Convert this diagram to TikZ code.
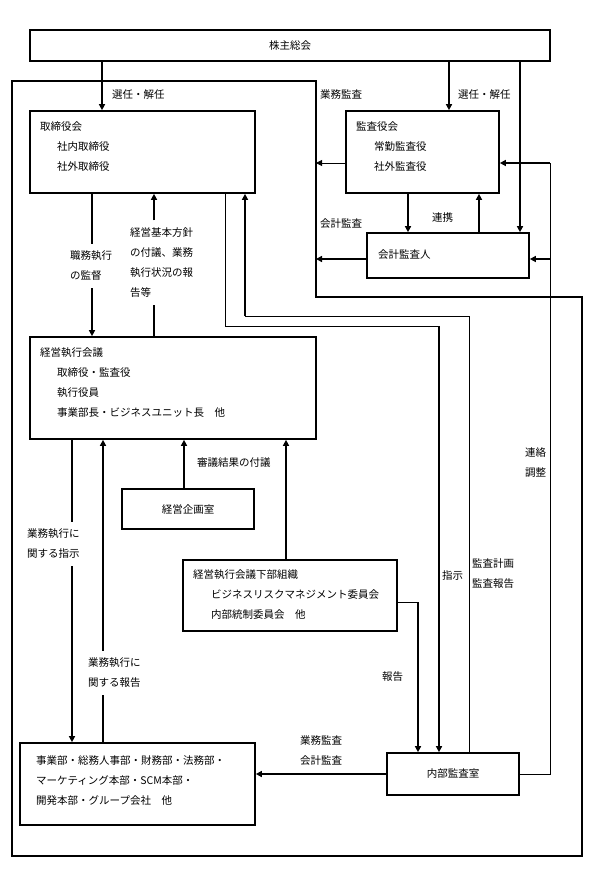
\documentclass[tikz,border=0pt]{standalone}
\usepackage{fontspec}
\setmainfont{Noto Sans CJK JP}
\usetikzlibrary{arrows.meta}
\begin{document}
\begin{tikzpicture}[x=1pt,y=-1pt,
  box/.style={draw,line width=1.7pt,inner sep=0pt,font=\fontsize{10.5}{20}\selectfont},
  txt/.style={inner sep=0pt,align=left,font=\fontsize{10.5}{20}\selectfont,anchor=west},
  gap/.style={txt,inner ysep=7pt},
  thk/.style={line width=1.7pt},
  thn/.style={line width=0.8pt},
  arr/.style={-{Triangle[width=6pt,length=6pt]}}
]
\useasboundingbox (0,0) rectangle (601,876);
% guide coordinates
\foreach \x in {72,92,102,103,154,184,225,245,286,408,418,439,449,469,479,520,550}
  {\coordinate (g\x) at (\x,0);}
\foreach \y in {163,259,316,326,602}
  {\coordinate (h\y) at (0,\y);}
% frame
\coordinate (f1) at (12,81);
\coordinate (f2) at (316,81);
\coordinate (f3) at (316,297);
\coordinate (f4) at (582,297);
\coordinate (f5) at (582,856);
\coordinate (f6) at (12,856);
\draw[thk] (f1) -- (f2) -- (f3) -- (f4) -- (f5) -- (f6) -- cycle;
% boxes
\node[box,minimum width=520pt,minimum height=31pt] (soukai) at (290,45.5) {株主総会};
\node[box,minimum width=225pt,minimum height=82pt] (board) at (142.5,152) {};
\node[box,minimum width=153pt,minimum height=82pt] (kansa) at (422.5,152) {};
\node[box,minimum width=162pt,minimum height=45pt] (kaikei) at (448,255.5) {};
\node[box,minimum width=286pt,minimum height=102pt] (keiei) at (173,388) {};
\node[box,minimum width=132pt,minimum height=40pt] (kikaku) at (188,509) {経営企画室};
\node[box,minimum width=214pt,minimum height=71pt] (kabu) at (290,595.5) {};
\node[box,minimum width=235pt,minimum height=82pt] (jigyo) at (137.5,784) {};
\node[box,minimum width=132pt,minimum height=42pt] (naibu) at (453,774) {内部監査室};
% box texts
\node[txt] (t1) at (40,147) {取締役会\\\hspace*{17pt}社内取締役\\\hspace*{17pt}社外取締役};
\node[txt] (t2) at (356,147) {監査役会\\\hspace*{18pt}常勤監査役\\\hspace*{18pt}社外監査役};
\node[txt] (t3) at (378,255) {会計監査人};
\node[txt] (t4) at (40,383) {経営執行会議\\\hspace*{17pt}取締役・監査役\\\hspace*{17pt}執行役員\\\hspace*{17pt}事業部長・ビジネスユニット長　他};
\node[txt] (t6) at (193,595) {経営執行会議下部組織\\\hspace*{18pt}ビジネスリスクマネジメント委員会\\\hspace*{18pt}内部統制委員会　他};
\node[txt] (t7) at (36,780.5) {事業部・総務人事部・財務部・法務部・\\マーケティング本部・SCM本部・\\開発本部・グループ会社　他};
% labels
\node[txt] (l1) at (112,95) {選任・解任};
\node[txt] (l2) at (458,95) {選任・解任};
\node[txt] (l3) at (320,95) {業務監査};
\node[txt] (l4) at (320,224) {会計監査};
\node[txt] (l5) at (432,218) {連携};
\node[txt] (l6) at (525,462.5) {連絡\\調整};
\node[gap] (l8) at (70,266) {職務執行\\の監督};
\node[gap] (l9) at (130,262.5) {経営基本方針\\の付議、業務\\執行状況の報\\告等};
\node[txt] (l10) at (197,463) {審議結果の付議};
\node[txt] (l11) at (382,677) {報告};
\node[txt] (l12) at (442,576) {指示};
\node[txt] (l13) at (472,573.5) {監査計画\\監査報告};
\node[gap] (l14) at (27,544) {業務執行に\\関する指示};
\node[gap] (l15) at (88,673) {業務執行に\\関する報告};
\node[txt] (l16) at (300,750.5) {業務監査\\会計監査};
% connectors
\draw[thk,arr] (soukai.south -| g102) -- (board.north -| g102);
\draw[thk,arr] (soukai.south -| g449) -- (kansa.north -| g449);
\draw[thk,arr] (soukai.south -| g520) -- (kaikei.north -| g520);
\draw[thn,arr] (kansa.west |- h163) -- (f2 |- h163);
\draw[thk,arr] (kaikei.west |- h259) -- (f2 |- h259);
\draw[thk,arr] (kansa.south -| g408) -- (kaikei.north -| g408);
\draw[thk,arr] (kaikei.north -| g479) -- (kansa.south -| g479);
\draw[thn] (naibu.east) -| (g550 |- h163);
\draw[thk,arr] (g550 |- h163) -- (kansa.east |- h163);
\draw[thk,arr] (g550 |- h259) -- (kaikei.east |- h259);
\draw[thk] (board.south -| g92) -- (l8.north -| g92);
\draw[thk,arr] (l8.south -| g92) -- (keiei.north -| g92);
\draw[thk] (keiei.north -| g154) -- (l9.south -| g154);
\draw[thk,arr] (l9.north -| g154) -- (board.south -| g154);
\draw[thn] (board.south -| g225) |- (g439 |- h326);
\draw[thk,arr] (g439 |- h326) -- (naibu.north -| g439);
\draw[thn] (naibu.north -| g469) |- (g245 |- h316);
\draw[thk,arr] (g245 |- h316) -- (board.south -| g245);
\draw[thk,arr] (kikaku.north -| g184) -- (keiei.south -| g184);
\draw[thk,arr] (kabu.north -| g286) -- (keiei.south -| g286);
\draw[thn] (kabu.east |- h602) -- (g418 |- h602);
\draw[thk,arr] (g418 |- h602) -- (naibu.north -| g418);
\draw[thk] (keiei.south -| g72) -- (l14.north -| g72);
\draw[thk,arr] (l14.south -| g72) -- (jigyo.north -| g72);
\draw[thk] (jigyo.north -| g103) -- (l15.south -| g103);
\draw[thk,arr] (l15.north -| g103) -- (keiei.south -| g103);
\draw[thk,arr] (naibu.west) -- (jigyo.east |- naibu.west);
\end{tikzpicture}
\end{document}
